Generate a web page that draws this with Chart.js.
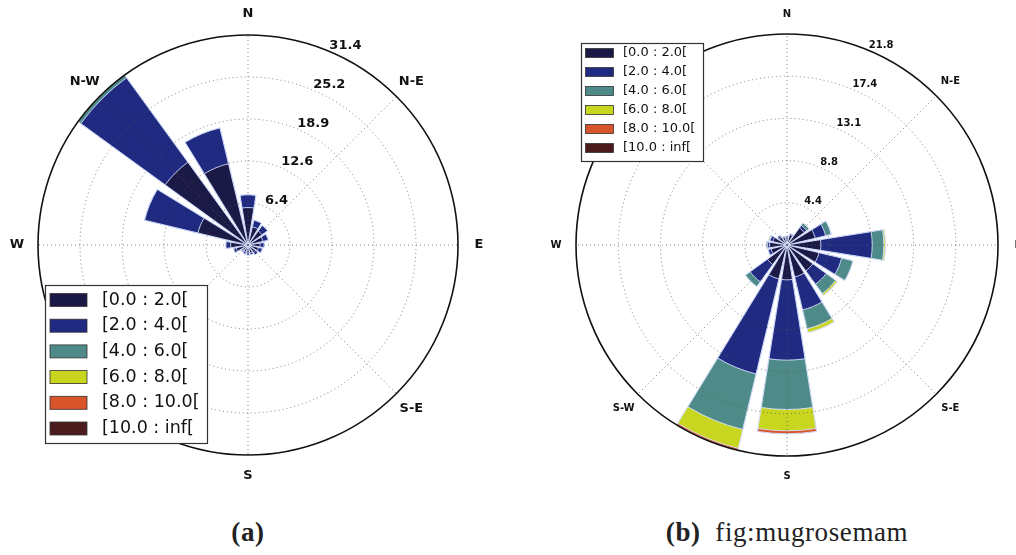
<!DOCTYPE html>
<html>
<head>
<meta charset="utf-8">
<script src="https://cdn.jsdelivr.net/npm/chart.js@4/dist/chart.umd.min.js"></script>
<style>
  body { margin: 0; background: #fff; }
  #wrap { position: relative; width: 1016px; height: 555px; overflow: hidden; background: #fff; }
  canvas { position: absolute; top: 0; }
  #roseA { left: 0; }
  #roseB { left: 508px; }
  .cap { position: absolute; top: 517px; font-family: "Liberation Serif", serif; font-size: 27px; letter-spacing: 0.6px; color: #222; text-align: center; white-space: nowrap; }
  #capA { left: 0; width: 496px; }
  #capB { left: 508px; width: 558px; }
</style>
</head>
<body>
<div id="wrap">
  <canvas id="roseA" width="508" height="495"></canvas>
  <canvas id="roseB" width="508" height="495"></canvas>
  <div class="cap" id="capA"><b>(a)</b></div>
  <div class="cap" id="capB"><b>(b)</b>&nbsp; fig:mugrosemam</div>
</div>
<script>
// compass points every 45 deg, clockwise from north
const compass = ['N', 'N-E', 'E', 'S-E', 'S', 'S-W', 'W', 'N-W'];
const binLabels = ['[0.0 : 2.0[', '[2.0 : 4.0[', '[4.0 : 6.0[', '[6.0 : 8.0[', '[8.0 : 10.0[', '[10.0 : inf['];
const binColors = ['#1b1a47', '#1f2a80', '#4e8b88', '#c9d61f', '#d8542a', '#4b1b1d'];

// 16 sectors: N, NNE, NE, ENE, E, ESE, SE, SSE, S, SSW, SW, WSW, W, WNW, NW, NNW
// (a) frequency (%) per speed bin
const a0 = [5.6, 2.8, 2.6, 2.3, 1.8, 1.6, 1.4, 1.2, 1.2, 1.1, 1.0, 1.8, 2.6, 7.7, 15.3, 12.5];
const a1 = [1.9, 1.0, 1.0, 0.8, 0.6, 0.6, 0.4, 0.3, 0.3, 0.3, 0.2, 0.4, 0.7, 8.2, 15.6, 5.5];
const a2 = [0, 0, 0, 0, 0, 0, 0, 0, 0, 0, 0, 0, 0, 0, 0.5, 0];
const a3 = [0, 0, 0, 0, 0, 0, 0, 0, 0, 0, 0, 0, 0, 0, 0, 0];
const a4 = [0, 0, 0, 0, 0, 0, 0, 0, 0, 0, 0, 0, 0, 0, 0, 0];
const a5 = [0, 0, 0, 0, 0, 0, 0, 0, 0, 0, 0, 0, 0, 0, 0, 0];
const maxA = 31.4;
const ticksA = ['6.4', '12.6', '18.9', '25.2', '31.4'];

// (b) fig:mugrosemam
const b0 = [0.8, 1.1, 2.2, 3.0, 3.5, 3.4, 3.3, 3.4, 3.6, 3.6, 2.5, 1.7, 1.8, 1.5, 1.0, 0.8];
const b1 = [0.1, 0.1, 0.3, 1.1, 5.3, 2.4, 1.7, 3.5, 8.3, 10.1, 2.2, 0.3, 0.2, 0.3, 0.2, 0.1];
const b2 = [0, 0, 0.3, 0.6, 1.2, 1.2, 1.2, 2.0, 5.1, 5.9, 0.6, 0, 0.1, 0.05, 0, 0];
const b3 = [0, 0, 0, 0, 0.15, 0, 0.2, 0.4, 2.2, 2.0, 0, 0, 0.05, 0.1, 0, 0];
const b4 = [0, 0, 0, 0, 0, 0, 0, 0, 0.3, 0.2, 0, 0, 0, 0, 0, 0];
const b5 = [0, 0, 0, 0, 0, 0, 0, 0, 0, 0, 0, 0, 0, 0, 0, 0];
const maxB = 21.8;
const ticksB = ['4.4', '8.8', '13.1', '17.4', '21.8'];

// compass labels, radial tick labels and the boxed legend
const roseText = {
  id: 'roseText',
  afterDraw(chart, args, o) {
    const ctx = chart.ctx;
    const r = chart.scales.r;
    ctx.save();
    ctx.fillStyle = '#111';
    ctx.textAlign = 'center';
    ctx.textBaseline = 'middle';
    ctx.font = 'bold ' + o.dirSize + 'px "DejaVu Sans"';
    chart.data.labels.forEach((lab, i) => {
      if (!lab) return;
      const p = r.getPointPosition(i, r.drawingArea + o.dirGap);
      ctx.fillText(lab, p.x, p.y);
    });

    // tick labels sit along the 22.5 deg ray
    ctx.font = 'bold ' + o.tickSize + 'px "DejaVu Sans"';
    ctx.textAlign = 'left';
    ctx.textBaseline = 'alphabetic';
    r.ticks.forEach(t => {
      if (!t.label) return;
      const p = r.getPointPosition(1, r.getDistanceFromCenterForValue(t.value), Math.PI / 8);
      ctx.fillText(t.label, p.x + 1, p.y - o.tickLift);
    });

    const L = o.legend;
    ctx.fillStyle = '#fff';
    ctx.fillRect(L.x, L.y, L.w, L.h);
    ctx.strokeStyle = '#333';
    ctx.lineWidth = 1.2;
    ctx.strokeRect(L.x + 0.5, L.y + 0.5, L.w, L.h);
    ctx.font = L.size + 'px "DejaVu Sans"';
    ctx.textBaseline = 'middle';
    chart.data.datasets.forEach((ds, k) => {
      const cy = L.y + L.first + k * L.gap;
      ctx.fillStyle = binColors[k];
      ctx.fillRect(L.x + L.sx, cy - L.sh / 2, L.sw, L.sh);
      ctx.strokeStyle = '#333';
      ctx.lineWidth = 0.8;
      ctx.strokeRect(L.x + L.sx, cy - L.sh / 2, L.sw, L.sh);
      ctx.fillStyle = '#111';
      ctx.fillText(ds.label, L.x + L.tx, cy);
    });
    ctx.restore();
  }
};

function roseConfig(bins, rMax, tickLabels, pad, text) {
  // stack by drawing cumulative wedges; dataset 0 is painted last (on top)
  const datasets = [];
  let cum = bins[0].map(() => 0);
  bins.forEach((bin, b) => {
    cum = cum.map((v, i) => v + bin[i]);
    const data = [];
    cum.forEach(v => data.push(v, 0)); // bar then gap
    datasets.push({
      label: binLabels[b],
      data: data,
      backgroundColor: c => (c.dataIndex % 2 ? 'rgba(0,0,0,0)' : binColors[b]),
      borderColor: 'rgba(215,225,255,0.9)',
      borderWidth: c => (c.dataIndex % 2 ? 0 : 1),
      angle: c => (c.dataIndex % 2 ? 4.5 : 18)
    });
  });
  // 40 slots of 9 deg; scale starts at -9 deg so the bars are centred on the compass points
  const labels = [];
  for (let i = 0; i < 40; i++) labels.push(i % 5 === 1 ? compass[(i - 1) / 5] : '');

  const gridCol = 'rgba(85,85,85,0.75)';
  return {
    type: 'polarArea',
    data: { labels: labels, datasets: datasets },
    options: {
      responsive: false,
      animation: false,
      layout: { padding: pad },
      plugins: { legend: { display: false }, tooltip: { enabled: false }, roseText: text },
      scales: {
        r: {
          min: 0,
          max: rMax,
          startAngle: -9,
          ticks: { display: false, stepSize: rMax / 5, callback: (v, i) => tickLabels[i - 1] || '' },
          grid: {
            z: 1,
            circular: true,
            color: c => (c.tick && c.tick.value > rMax - 1e-6 ? '#111' : gridCol),
            lineWidth: c => (c.tick && c.tick.value > rMax - 1e-6 ? 1.6 : 1)
          },
          border: { dash: c => (c.tick && c.tick.value > rMax - 1e-6 ? [] : [1, 3]) },
          angleLines: {
            display: true,
            color: gridCol,
            lineWidth: c => (c.index % 5 === 1 ? 1 : 0),
            borderDash: [1, 3]
          },
          pointLabels: { display: false }
        }
      }
    },
    plugins: [roseText]
  };
}

new Chart(document.getElementById('roseA'), roseConfig(
  [a0, a1, a2, a3, a4, a5], maxA, ticksA,
  { left: 38, right: 50, top: 35, bottom: 40 },
  {
    dirSize: 13, dirGap: 21, tickSize: 13, tickLift: 2,
    legend: { x: 45, y: 285, w: 162, h: 158, first: 15, gap: 25.7, sx: 5, sw: 37, sh: 13, tx: 57, size: 17.5 }
  }
));

new Chart(document.getElementById('roseB'), roseConfig(
  [b0, b1, b2, b3, b4, b5], maxB, ticksB,
  { left: 68, right: 18, top: 34, bottom: 39 },
  {
    dirSize: 10, dirGap: 20, tickSize: 10, tickLift: 2,
    legend: { x: 73, y: 43, w: 122, h: 118, first: 10, gap: 19, sx: 4.5, sw: 28, sh: 9, tx: 42, size: 13 }
  }
));
</script>
</body>
</html>
